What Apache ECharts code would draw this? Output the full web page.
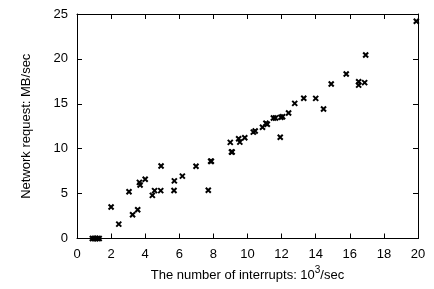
<!DOCTYPE html>
<html>
<head>
<meta charset="utf-8">
<script src="https://cdn.jsdelivr.net/npm/echarts@6/dist/echarts.min.js"></script>
<style>
  html, body { margin: 0; padding: 0; background: #fff; }
  #chart { width: 434px; height: 289px; }
</style>
</head>
<body>
<div id="chart"></div>
<script>
// interrupts (10^3/sec) and network request (MB/sec)
const interruptRate = [
  0.9, 1.0, 1.1, 1.2, 1.3,
  2.0, 2.45, 3.05, 3.26, 3.56, 3.66, 3.7, 4.0, 4.42, 4.55, 4.93, 4.91,
  5.69, 5.71, 6.18, 6.98, 7.7, 7.84, 7.88, 8.99, 9.06, 9.1, 9.48, 9.55,
  9.84, 10.34, 10.45, 10.88, 11.08, 11.16, 11.52, 11.64, 11.96, 12.06,
  11.92, 12.41, 12.77, 13.3, 14.0, 14.46, 14.91, 15.79, 16.52, 16.52,
  16.87, 16.93, 19.9
]
const networkRequest = [
  0, 0, 0, 0, 0,
  3.5, 1.6, 5.2, 2.65, 3.2, 6.25, 5.95, 6.6, 4.8, 5.33, 8.07, 5.33,
  5.35, 6.42, 6.95, 8.05, 5.37, 8.6, 8.6, 10.7, 9.63, 9.63, 11.1, 10.73,
  11.22, 11.85, 11.98, 12.38, 12.83, 12.72, 13.42, 13.42, 13.5, 13.56,
  11.28, 13.98, 15.05, 15.61, 15.6, 14.42, 17.2, 18.32, 17.45, 17.08,
  17.36, 20.43, 24.2
]
const xTicks = [0, 20, 2]
const yTicks = [0, 25, 5]

const points = interruptRate.map((x, i) => [x, networkRequest[i]])

const font = 'Liberation Sans, Arial, Helvetica, sans-serif'
const black = '#000'

const chart = echarts.init(document.getElementById('chart'), null, { renderer: 'canvas' })

const frameAxis = {
  axisLine: { show: true, onZero: false, lineStyle: { color: black, width: 1 } },
  axisTick: { show: true, inside: true, length: 5, lineStyle: { color: black } },
  splitLine: { show: false }
}

chart.setOption({
  animation: false,
  backgroundColor: '#fff',
  grid: { left: 77, right: 16, top: 14, bottom: 50.5 },
  xAxis: [
    {
      type: 'value',
      min: xTicks[0], max: xTicks[1], interval: xTicks[2],
      ...frameAxis,
      axisLabel: { color: black, fontSize: 13, fontFamily: font, margin: 9 },
      name: '{a|The number of interrupts: 10}{s|3}{a|/sec}',
      nameLocation: 'middle',
      nameGap: 24,
      nameTextStyle: {
        rich: {
          a: { fontSize: 13, fontFamily: font, color: black, lineHeight: 17, verticalAlign: 'bottom' },
          s: { fontSize: 10, fontFamily: font, color: black, lineHeight: 17, verticalAlign: 'top' }
        }
      }
    },
    {
      type: 'value', position: 'top',
      min: xTicks[0], max: xTicks[1], interval: xTicks[2],
      ...frameAxis,
      axisLabel: { show: false }
    }
  ],
  yAxis: [
    {
      type: 'value',
      min: yTicks[0], max: yTicks[1], interval: yTicks[2],
      ...frameAxis,
      axisLabel: { color: black, fontSize: 13, fontFamily: font, margin: 9 },
      name: 'Network request: MB/sec',
      nameLocation: 'middle',
      nameGap: 44,
      nameTextStyle: { color: black, fontSize: 13, fontFamily: font }
    },
    {
      type: 'value', position: 'right',
      min: yTicks[0], max: yTicks[1], interval: yTicks[2],
      ...frameAxis,
      axisLabel: { show: false }
    }
  ],
  series: [
    {
      type: 'scatter',
      data: points,
      symbol: 'path://M0,0L10,10M10,0L0,10',
      symbolSize: 5,
      itemStyle: { color: 'none', borderColor: black, borderWidth: 2, opacity: 1 },
      clip: false
    }
  ]
})
</script>
</body>
</html>
